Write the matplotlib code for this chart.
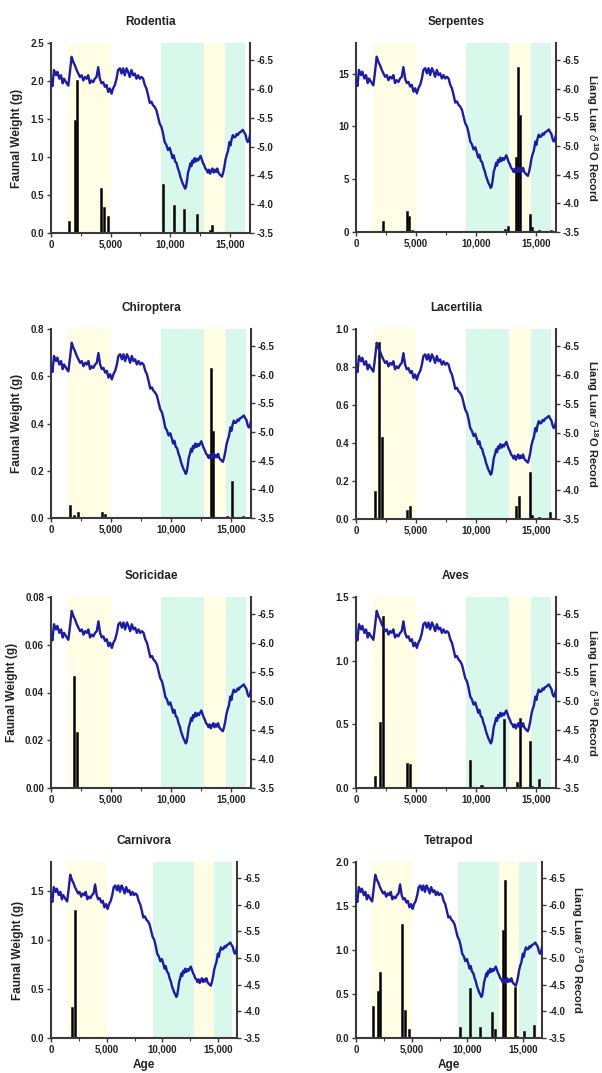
import matplotlib
matplotlib.use("Agg")
import matplotlib.pyplot as plt
from matplotlib.ticker import FuncFormatter, MultipleLocator, FixedLocator

plt.rcParams['font.family'] = ['Liberation Sans', 'DejaVu Sans']
plt.rcParams['mathtext.fontset'] = 'custom'
plt.rcParams['mathtext.rm'] = 'Liberation Sans'
plt.rcParams['mathtext.bf'] = 'Liberation Sans:bold'

# ---------------- Data ----------------
# Liang Luar d18O record (age in years, d18O permil)
o18_age = [0, 120, 250, 420, 530, 700, 840, 980, 1090, 1260, 1450, 1590, 1730, 1870,
           2010, 2150, 2290, 2430, 2570, 2710, 2850, 2990, 3120, 3260, 3400, 3540, 3680,
           3820, 3960, 4100, 4240, 4380, 4520, 4660, 4800, 4940, 5080, 5210, 5360, 5500,
           5630, 5780, 5920, 6050, 6190, 6340, 6470, 6610, 6750, 6890, 7030, 7170, 7310,
           7450, 7590, 7730, 7870, 8010, 8150, 8290, 8430, 8560, 8700, 8850, 8980, 9120,
           9270, 9400, 9540, 9680, 9820, 9960, 10100, 10200, 10300, 10420, 10530, 10650,
           10760, 10850, 10950, 11050, 11150, 11250, 11330, 11420, 11500, 11600, 11700,
           11780, 11860, 11950, 12050, 12150, 12250, 12350, 12450, 12550, 12650, 12750,
           12850, 12950, 13050, 13150, 13250, 13350, 13450, 13550, 13650, 13750, 13850,
           13950, 14050, 14150, 14250, 14350, 14450, 14550, 14650, 14750, 14850, 14980,
           15060, 15150, 15260, 15370, 15480, 15580, 15680, 15780, 15880, 15990, 16100,
           16200, 16320, 16420, 16510, 16600, 16700, 16800]
o18_val = [-6.15, -6.05, -6.33, -6.24, -6.30, -6.18, -6.24, -6.10, -6.18, -6.12, -6.06,
           -6.30, -6.56, -6.47, -6.41, -6.33, -6.27, -6.21, -6.24, -6.15, -6.21, -6.18,
           -6.24, -6.10, -6.15, -6.12, -6.18, -6.21, -6.38, -6.18, -6.10, -6.12, -6.04,
           -6.07, -5.95, -6.01, -5.92, -6.01, -6.07, -6.18, -6.33, -6.36, -6.27, -6.36,
           -6.24, -6.36, -6.30, -6.21, -6.33, -6.24, -6.27, -6.18, -6.24, -6.18, -6.21,
           -6.18, -6.07, -6.01, -5.89, -5.76, -5.78, -5.72, -5.69, -5.63, -5.52, -5.40,
           -5.34, -5.23, -5.08, -5.03, -4.94, -4.98, -4.88, -4.80, -4.85, -4.74, -4.72,
           -4.62, -4.56, -4.48, -4.42, -4.36, -4.32, -4.27, -4.30, -4.42, -4.55, -4.62,
           -4.71, -4.66, -4.76, -4.72, -4.80, -4.74, -4.79, -4.76, -4.80, -4.84, -4.78,
           -4.72, -4.68, -4.62, -4.60, -4.55, -4.60, -4.53, -4.58, -4.62, -4.55, -4.60,
           -4.56, -4.62, -4.55, -4.52, -4.50, -4.48, -4.55, -4.65, -4.78, -4.86, -4.92,
           -5.08, -5.02, -5.12, -5.20, -5.16, -5.17, -5.22, -5.20, -5.24, -5.25, -5.27,
           -5.29, -5.25, -5.21, -5.12, -5.08, -5.10, -5.20, -5.26]

# Shaded climate intervals (start, end)
yellow_spans = [(1400, 5000), (12800, 14600)]
cyan_spans = [(9200, 12800), (14600, 16250)]

# Faunal weights (g) per taxon
rodentia_age = [1540, 2010, 2210, 4190, 4470, 4750, 9410, 10310, 11170, 12260, 13320, 13550]
rodentia_wt = [0.16, 1.49, 2.01, 0.59, 0.34, 0.22, 0.64, 0.37, 0.31, 0.25, 0.04, 0.10]

serpentes_age = [2220, 4220, 4420, 4700, 9490, 11320, 12450, 12730, 13380, 13520, 13720,
                 14510, 14700, 15270, 16250]
serpentes_wt = [1.0, 2.0, 1.5, 0.2, 0.05, 0.05, 0.3, 0.6, 7.1, 15.6, 11.1, 1.7, 0.5, 0.2, 0.15]

chiroptera_age = [1610, 1950, 2230, 4240, 4520, 12350, 13330, 13550, 14670, 15140, 16060]
chiroptera_wt = [0.056, 0.014, 0.024, 0.024, 0.017, 0.004, 0.635, 0.37, 0.01, 0.155, 0.007]

lacertilia_age = [1550, 1890, 2170, 4280, 4510, 13380, 13630, 14510, 14700, 15270, 16200]
lacertilia_wt = [0.146, 0.93, 0.43, 0.05, 0.07, 0.07, 0.12, 0.25, 0.02, 0.01, 0.037]

soricidae_age = [1955, 2150]
soricidae_wt = [0.0468, 0.0234]

aves_age = [1580, 2030, 2230, 4230, 4510, 9490, 10480, 12370, 13440, 13720, 14510, 14700,
            15270, 16200]
aves_wt = [0.097, 0.52, 1.35, 0.20, 0.19, 0.22, 0.026, 0.54, 0.05, 0.55, 0.37, 0.013,
           0.07, 0.008]

carnivora_age = [1900, 2140]
carnivora_wt = [0.32, 1.31]

tetrapod_age = [1560, 1980, 2190, 4160, 4430, 4730, 9340, 10270, 11170, 12190, 12510,
                13200, 13410, 14280, 14460, 15090, 15960]
tetrapod_wt = [0.36, 0.53, 0.755, 1.30, 0.32, 0.10, 0.127, 0.57, 0.12, 0.29, 0.10, 1.23,
               1.79, 0.58, 0.02, 0.075, 0.15]

x_ticks = [0, 5000, 10000, 15000]
right_ticks = [-6.5, -6.0, -5.5, -5.0, -4.5, -4.0, -3.5]

# ---------------- Layout ----------------
W, H = 602, 1073
fig = plt.figure(figsize=(W / 100, H / 100), dpi=100)


def rect(l, r, t, b):
    return [l / W, 1 - b / H, (r - l) / W, (b - t) / H]


SPINE = '#3a3a3a'
TXT = '#222222'
LINE = '#1c1ca6'
YEL = '#fffde4'
CYN = '#d9f8ec'

panels = [
    ("Rodentia", rodentia_age, rodentia_wt, (51, 250, 43, 233), 2.5, 0.5, '{:.1f}', 'L', False),
    ("Serpentes", serpentes_age, serpentes_wt, (356, 556, 43, 232), 17.9, 5, '{:.0f}', 'R', False),
    ("Chiroptera", chiroptera_age, chiroptera_wt, (51, 251, 329, 518), 0.8, 0.2, '{:.1f}', 'L', False),
    ("Lacertilia", lacertilia_age, lacertilia_wt, (356, 556, 329, 519), 1.0, 0.2, '{:.1f}', 'R', False),
    ("Soricidae", soricidae_age, soricidae_wt, (51, 251, 597, 788), 0.08, 0.02, '{:.2f}', 'L', False),
    ("Aves", aves_age, aves_wt, (356, 556, 597, 788), 1.5, 0.5, '{:.1f}', 'R', False),
    ("Carnivora", carnivora_age, carnivora_wt, (51, 237, 862, 1038), 1.8, 0.5, '{:.1f}', 'L', True),
    ("Tetrapod", tetrapod_age, tetrapod_wt, (356, 542, 862, 1038), 2.0, 0.5, '{:.1f}', 'R', True),
]

for title, ages, wts, box, ytop, ystep, yfmt, side, bottom in panels:
    ax = fig.add_axes(rect(*box))
    for a0, a1 in yellow_spans:
        ax.axvspan(a0, a1, color=YEL, lw=0, zorder=0)
    for a0, a1 in cyan_spans:
        ax.axvspan(a0, a1, color=CYN, lw=0, zorder=0)
    ax.bar(ages, wts, width=170, color='black', edgecolor='#111111', linewidth=0.4, zorder=2)
    ax.set_xlim(0, 16700)
    ax.set_ylim(0, ytop)
    ax.yaxis.set_major_locator(MultipleLocator(ystep))
    ax.yaxis.set_major_formatter(FuncFormatter(lambda v, p, f=yfmt: f.format(v)))
    ax.xaxis.set_major_locator(FixedLocator(x_ticks))
    ax.xaxis.set_minor_locator(FixedLocator([2500, 7500, 12500]))
    ax.xaxis.set_major_formatter(FuncFormatter(lambda v, p: '{:,}'.format(int(v))))
    for s in ['top', 'right']:
        ax.spines[s].set_visible(False)
    for s in ['left', 'bottom']:
        ax.spines[s].set_linewidth(1.5)
        ax.spines[s].set_color(SPINE)
    ax.tick_params(axis='both', which='major', direction='out', length=3, width=1,
                   color=SPINE, labelsize=7, labelcolor=TXT, pad=2)
    ax.tick_params(axis='x', which='minor', direction='out', length=2, width=0.8, color=SPINE)
    for lab in ax.get_xticklabels() + ax.get_yticklabels():
        lab.set_fontweight('bold')
    ax.set_title(title, fontsize=8.5, fontweight='bold', color=TXT, pad=13)
    if side == 'L':
        ax.set_ylabel('Faunal Weight (g)', fontsize=8.5, fontweight='bold', color=TXT, labelpad=5)
    if bottom:
        ax.set_xlabel('Age', fontsize=8.5, fontweight='bold', color=TXT, labelpad=3)

    ax2 = ax.twinx()
    ax2.plot(o18_age, o18_val, color=LINE, lw=1.7, zorder=3)
    ax2.set_xlim(0, 16700)
    ax2.set_ylim(-3.5, -6.8)
    ax2.yaxis.set_major_locator(FixedLocator(right_ticks))
    ax2.yaxis.set_major_formatter(FuncFormatter(lambda v, p: '{:.1f}'.format(v)))
    for s in ['top', 'left', 'bottom']:
        ax2.spines[s].set_visible(False)
    ax2.spines['right'].set_linewidth(1.5)
    ax2.spines['right'].set_color(SPINE)
    ax2.tick_params(axis='y', direction='out', length=3, width=1, color=SPINE,
                    labelsize=7, labelcolor=TXT, pad=2)
    for lab in ax2.get_yticklabels():
        lab.set_fontweight('bold')
    if side == 'R':
        ax2.set_ylabel(r'Liang Luar $\delta^{\mathbf{18}}$O Record', rotation=270,
                       fontsize=8, fontweight='bold', color=TXT)
        width_px = box[1] - box[0]
        ax2.yaxis.set_label_coords((592 - box[0]) / width_px if width_px == 200
                                   else (577 - box[0]) / width_px, 0.5)
        ax2.yaxis.label.set_rotation_mode('default')
        ax2.yaxis.label.set_verticalalignment('center')
        ax2.yaxis.label.set_horizontalalignment('center')

fig.savefig('out.png', dpi=100, facecolor='white')
